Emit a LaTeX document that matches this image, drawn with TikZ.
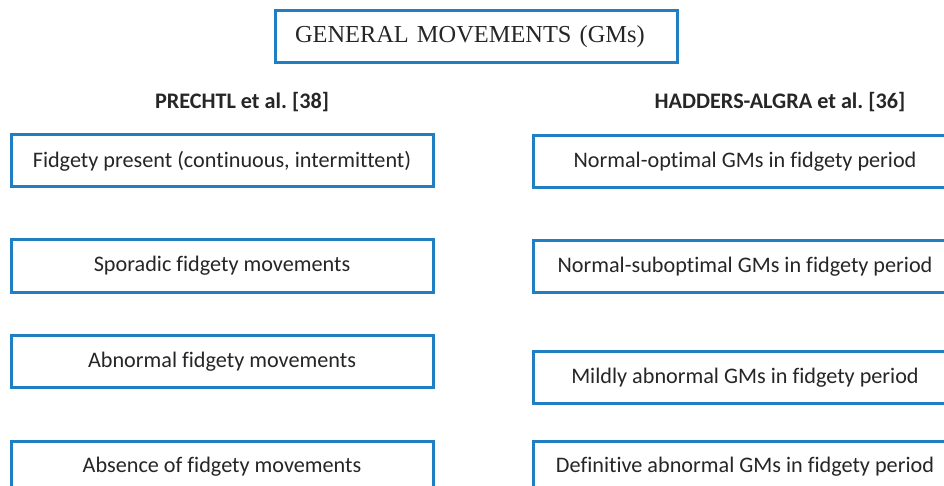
\documentclass[tikz,border=0pt]{standalone}
\usepackage{fontspec}
\setmainfont{Carlito}[Ligatures=NoCommon]
\newfontfamily\titlefont{Liberation Serif}
\definecolor{boxblue}{RGB}{31,127,194}
\definecolor{inkgray}{RGB}{38,38,38}
\frenchspacing
\begin{document}
\begin{tikzpicture}[x=1pt,y=-1pt,
  catbox/.style={draw=boxblue, line width=3pt, fill=white, minimum height=52pt,
    inner sep=0pt, text=inkgray, font=\fontsize{22.2}{26}\selectfont},
  leftbox/.style={catbox, minimum width=422pt},
  rightbox/.style={catbox, minimum width=424pt},
  heading/.style={font=\fontsize{22.2}{26}\selectfont\bfseries, text=inkgray, inner sep=0pt},
  titlebox/.style={draw=boxblue, line width=3pt, fill=white, minimum height=52pt,
    text width=362pt, inner xsep=20pt, inner ysep=0pt, align=left,
    font=\titlefont\fontsize{24.4}{29}\selectfont, text=inkgray}]
\useasboundingbox (0,0) rectangle (944,486);
\clip (0,0) rectangle (944,486);

% title
\node[titlebox] (gms) at (476,37) {GENERAL MOVEMENTS (GMs)};

% column headings
\node[heading] (prechtl) at (242,102) {PRECHTL et al. [38]};
\node[heading] (hadders) at (780,102) {HADDERS-ALGRA et al. [36]};

% Prechtl classification
\node[leftbox] (p1) at (222,161) {Fidgety present (continuous, intermittent)};
\node[leftbox] (p2) at (222,266) {Sporadic fidgety movements};
\node[leftbox] (p3) at (222,361.5) {Abnormal fidgety movements};
\node[leftbox] (p4) at (222,467) {Absence of fidgety movements};

% Hadders-Algra classification
\node[rightbox] (h1) at (745,162) {Normal-optimal GMs in fidgety period};
\node[rightbox] (h2) at (745,266.5) {Normal-suboptimal GMs in fidgety period};
\node[rightbox] (h3) at (745,377.5) {Mildly abnormal GMs in fidgety period};
\node[rightbox] (h4) at (745,467) {Definitive abnormal GMs in fidgety period};
\end{tikzpicture}
\end{document}
